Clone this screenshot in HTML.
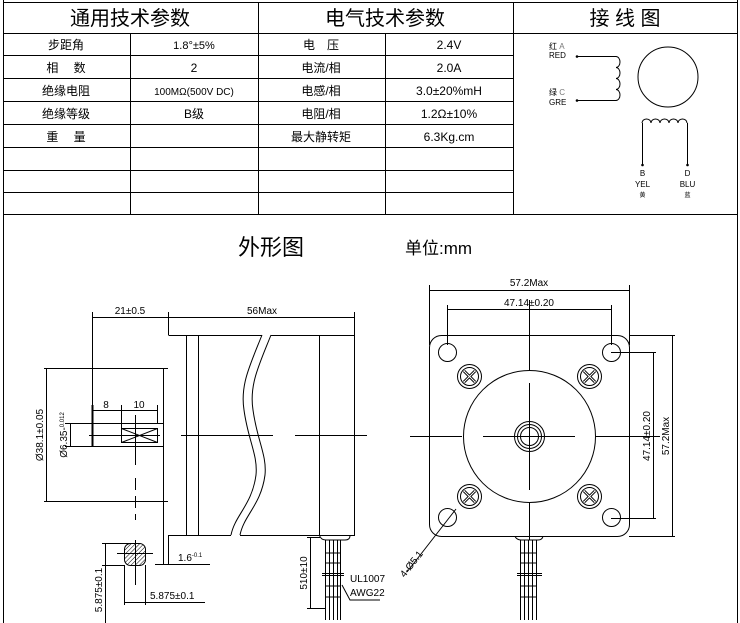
<!DOCTYPE html>
<html><head><meta charset="utf-8"><style>
html,body{margin:0;padding:0;background:#fff}
svg{display:block}
text{font-family:"Liberation Sans","Noto Sans CJK SC",sans-serif;fill:#000}
</style></head><body>
<svg width="740" height="623" viewBox="0 0 740 623" xmlns="http://www.w3.org/2000/svg">
<defs>
<pattern id="h" width="3" height="3" patternUnits="userSpaceOnUse" patternTransform="rotate(45)"><line x1="0" y1="0" x2="0" y2="3" stroke="#000" stroke-width="1"/></pattern>
</defs>
<g stroke="#000" stroke-width="1" fill="none">
<!-- frame -->
<line x1="3.5" y1="0" x2="3.5" y2="623"/>
<line x1="737.5" y1="0" x2="737.5" y2="623"/>
<line x1="3" y1="2.5" x2="738" y2="2.5"/>
<line x1="3" y1="33.5" x2="738" y2="33.5"/>
<line x1="3" y1="214.5" x2="738" y2="214.5"/>
<line x1="3" y1="55.5" x2="513" y2="55.5"/>
<line x1="3" y1="78.5" x2="513" y2="78.5"/>
<line x1="3" y1="101.5" x2="513" y2="101.5"/>
<line x1="3" y1="124.5" x2="513" y2="124.5"/>
<line x1="3" y1="147.5" x2="513" y2="147.5"/>
<line x1="3" y1="170.5" x2="513" y2="170.5"/>
<line x1="3" y1="192.5" x2="513" y2="192.5"/>
<line x1="130.5" y1="33" x2="130.5" y2="214"/>
<line x1="258.5" y1="2" x2="258.5" y2="214"/>
<line x1="385.5" y1="33" x2="385.5" y2="214"/>
<line x1="513.5" y1="2" x2="513.5" y2="214"/>
<!-- wiring -->
<line x1="577" y1="56.5" x2="616" y2="56.5"/>
<line x1="577" y1="100.5" x2="616" y2="100.5"/>
<path d="M616 56.5 a4 5.5 0 0 1 0 11 a4 5.5 0 0 1 0 11 a4 5.5 0 0 1 0 11 a4 5.5 0 0 1 0 11"/>
<circle cx="668" cy="77" r="30"/>
<path d="M642 123 a4.5 4 0 0 1 9 0 a4.5 4 0 0 1 9 0 a4.5 4 0 0 1 9 0 a4.5 4 0 0 1 9 0 a4.5 4 0 0 1 9 0"/>
<line x1="642.5" y1="123" x2="642.5" y2="165"/>
<line x1="687.5" y1="123" x2="687.5" y2="165"/>
</g>
<g fill="#000"><circle cx="577" cy="56.5" r="1.3"/><circle cx="577" cy="100.5" r="1.3"/><circle cx="642.5" cy="165" r="1.3"/><circle cx="687.5" cy="165" r="1.3"/></g>
<g font-size="8">
<text x="549" y="49">红 <tspan fill="#777">A</tspan></text><text x="549" y="58">RED</text>
<text x="549" y="95">绿 <tspan fill="#777">C</tspan></text><text x="549" y="105">GRE</text>
<text x="642.5" y="176" text-anchor="middle">B</text><text x="642.5" y="187" text-anchor="middle">YEL</text><text x="642.5" y="197" text-anchor="middle" font-size="6">黄</text>
<text x="687.5" y="176" text-anchor="middle">D</text><text x="687.5" y="187" text-anchor="middle">BLU</text><text x="687.5" y="197" text-anchor="middle" font-size="6">蓝</text>
</g>
<!-- table text -->
<g font-size="20" text-anchor="middle">
<text x="130" y="25">通用技术参数</text><text x="385" y="25">电气技术参数</text><text x="625" y="25">接 线 图</text>
</g>
<g font-size="12" text-anchor="middle">
<text x="66" y="49">步距角</text><text x="194" y="49" font-size="11">1.8°±5%</text><text x="321" y="49">电　压</text><text x="449" y="49">2.4V</text>
<text x="66" y="72">相　 数</text><text x="194" y="72">2</text><text x="321" y="72">电流/相</text><text x="449" y="72">2.0A</text>
<text x="66" y="95">绝缘电阻</text><text x="194" y="95" font-size="10">100MΩ(500V  DC)</text><text x="321" y="95">电感/相</text><text x="449" y="95">3.0±20%mH</text>
<text x="66" y="118">绝缘等级</text><text x="194" y="118">B级</text><text x="321" y="118">电阻/相</text><text x="449" y="118">1.2Ω±10%</text>
<text x="66" y="141">重　 量</text><text x="321" y="141">最大静转矩</text><text x="449" y="141">6.3Kg.cm</text>
</g>
<text x="238" y="255" font-size="22">外形图</text>
<text x="405" y="254" font-size="17">单位:mm</text>

<!-- side view -->
<g stroke="#000" stroke-width="1" fill="none">
<line x1="92" y1="317.5" x2="168" y2="317.5"/>
<line x1="168" y1="317.5" x2="354" y2="317.5"/>
<line x1="92.5" y1="312" x2="92.5" y2="446"/>
<line x1="168.5" y1="312" x2="168.5" y2="335"/>
<line x1="354.5" y1="312" x2="354.5" y2="335"/>
<path d="M168.5 335.5 H262 M271 335.5 H354.5 V535.5 H240 M231 535.5 H168.5 V565"/>
<line x1="186.5" y1="335" x2="186.5" y2="535"/>
<line x1="198.5" y1="335" x2="198.5" y2="535"/>
<line x1="319.5" y1="335" x2="319.5" y2="535"/>
<path d="M262 335 C250 365,240 385,244 410 C248 440,258 455,256 475 C252 505,235 515,231 535"/>
<path d="M271 335 C259 365,249 385,253 410 C257 440,267 455,265 475 C261 505,244 515,240 535"/>
<line x1="163.5" y1="368" x2="163.5" y2="565"/>
<line x1="44" y1="368.5" x2="168" y2="368.5"/>
<line x1="44" y1="501.5" x2="168" y2="501.5"/>
<line x1="46.5" y1="368" x2="46.5" y2="501"/>
<line x1="65" y1="423.5" x2="163" y2="423.5"/>
<line x1="65" y1="446.5" x2="163" y2="446.5"/>
<line x1="70.5" y1="423" x2="70.5" y2="446"/>
<line x1="92.5" y1="405" x2="92.5" y2="446" stroke-width="2"/>
<line x1="121.5" y1="405" x2="121.5" y2="442"/>
<line x1="157.5" y1="405" x2="157.5" y2="423"/>
<line x1="92" y1="410.5" x2="157" y2="410.5"/>
<rect x="121.5" y="428.5" width="36" height="14"/>
<path d="M121.5 428.5 L157.5 442.5 M121.5 442.5 L157.5 428.5"/>
<line x1="89" y1="435.5" x2="160" y2="435.5"/>
<line x1="181" y1="435.5" x2="273" y2="435.5"/>
<line x1="295" y1="435.5" x2="367" y2="435.5"/>
<line x1="135.5" y1="415" x2="135.5" y2="465" />
<line x1="135.5" y1="478" x2="135.5" y2="520" stroke-dasharray="12,6"/>
<rect x="124.5" y="543.5" width="21" height="22" rx="6" fill="url(#h)"/>
<line x1="117" y1="553.5" x2="153" y2="553.5"/>
<line x1="135.5" y1="540" x2="135.5" y2="585"/>
<line x1="102" y1="543.5" x2="130" y2="543.5"/>
<line x1="102" y1="565.5" x2="124" y2="565.5"/>
<line x1="105.5" y1="543" x2="105.5" y2="623"/>
<line x1="124.5" y1="565" x2="124.5" y2="605"/>
<line x1="145.5" y1="565" x2="145.5" y2="605"/>
<line x1="124" y1="602.5" x2="205" y2="602.5"/>
<line x1="155" y1="564.5" x2="210" y2="564.5"/>
<!-- wires side -->
<path d="M319.5 535.5 Q321 540,326 540 H345 Q350 540,350 535.5"/>
<line x1="310.5" y1="537" x2="310.5" y2="608"/>
<line x1="307" y1="537.5" x2="320" y2="537.5"/>
<line x1="307" y1="608.5" x2="325" y2="608.5"/>
<line x1="325.5" y1="540" x2="325.5" y2="620"/><line x1="329.5" y1="540" x2="329.5" y2="620"/><line x1="333.5" y1="540" x2="333.5" y2="620"/><line x1="337.5" y1="540" x2="337.5" y2="620"/><line x1="340.5" y1="540" x2="340.5" y2="620"/>
<line x1="322" y1="573.5" x2="344" y2="573.5"/><line x1="322" y1="575.5" x2="344" y2="575.5"/>
<path d="M325 553h16 M325 563h16 M325 586h16 M325 597h16"/>
<path d="M342 585 L350 600 H380"/>
</g>
<g font-size="10">
<text x="130" y="314" text-anchor="middle">21±0.5</text>
<text x="262" y="314" text-anchor="middle">56Max</text>
<text x="106" y="408" text-anchor="middle">8</text>
<text x="139" y="408" text-anchor="middle">10</text>
<text transform="translate(43,435) rotate(-90)" text-anchor="middle">Ø38.1±0.05</text>
<text transform="translate(67,435) rotate(-90)" text-anchor="middle">Ø6.35-<tspan font-size="6" dy="-3">0.012</tspan></text>
<text x="150" y="599">5.875±0.1</text>
<text transform="translate(102,590) rotate(-90)" text-anchor="middle">5.875±0.1</text>
<text x="178" y="561">1.6<tspan font-size="6" dy="-4">-0.1</tspan></text>
<text transform="translate(307,573) rotate(-90)" text-anchor="middle">510±10</text>
<text x="350" y="582">UL1007</text>
<text x="350" y="596">AWG22</text>
</g>

<!-- front view -->
<g stroke="#000" stroke-width="1" fill="none">
<line x1="429.5" y1="285" x2="429.5" y2="345"/>
<line x1="629.5" y1="285" x2="629.5" y2="345"/>
<line x1="429" y1="290.5" x2="629" y2="290.5"/>
<line x1="447.5" y1="305" x2="447.5" y2="345"/>
<line x1="611.5" y1="305" x2="611.5" y2="345"/>
<line x1="447" y1="309.5" x2="611" y2="309.5"/>
<rect x="429.5" y="335.5" width="200" height="201" rx="12"/>
<circle cx="447.5" cy="352.5" r="9"/><circle cx="611.5" cy="352.5" r="9"/><circle cx="447.5" cy="517.5" r="9"/><circle cx="611.5" cy="517.5" r="9"/>
<g id="s"><circle cx="469.5" cy="376.5" r="12"/><circle cx="469.5" cy="376.5" r="9"/><path d="M464 371 l11 11 M475 371 l-11 11" stroke-width="3"/><path d="M464 371 l11 11 M475 371 l-11 11" stroke="#fff" stroke-width="1"/></g>
<use href="#s" x="120"/><use href="#s" y="120"/><use href="#s" x="120" y="120"/>
<circle cx="529.5" cy="436.5" r="66"/>
<circle cx="529.5" cy="436.5" r="15"/><circle cx="529.5" cy="436.5" r="12"/><circle cx="529.5" cy="436.5" r="9"/>
<line x1="410" y1="436.5" x2="462" y2="436.5"/><line x1="483" y1="436.5" x2="575" y2="436.5"/><line x1="596" y1="436.5" x2="660" y2="436.5"/>
<line x1="529.5" y1="300" x2="529.5" y2="370"/><line x1="529.5" y1="383" x2="529.5" y2="490"/><line x1="529.5" y1="503" x2="529.5" y2="540"/>
<line x1="611" y1="352.5" x2="656" y2="352.5"/><line x1="611" y1="518.5" x2="656" y2="518.5"/>
<line x1="653.5" y1="352" x2="653.5" y2="518"/>
<line x1="629" y1="335.5" x2="675" y2="335.5"/><line x1="629" y1="536.5" x2="675" y2="536.5"/>
<line x1="672.5" y1="335" x2="672.5" y2="536"/>
<line x1="456" y1="509" x2="407" y2="572"/>
<path d="M515 536.5 Q517 540,521 540 H538 Q542 540,543 536.5"/>
<line x1="520.5" y1="540" x2="520.5" y2="620"/><line x1="524.5" y1="540" x2="524.5" y2="620"/><line x1="528.5" y1="540" x2="528.5" y2="620"/><line x1="532.5" y1="540" x2="532.5" y2="620"/><line x1="536.5" y1="540" x2="536.5" y2="620"/>
<line x1="517" y1="573.5" x2="542" y2="573.5"/><line x1="517" y1="575.5" x2="542" y2="575.5"/>
<path d="M520 553h17 M520 563h17 M520 586h17 M520 597h17"/>
</g>
<g font-size="10">
<text x="529" y="286" text-anchor="middle">57.2Max</text>
<text x="529" y="306" text-anchor="middle">47.14±0.20</text>
<text transform="translate(650,436) rotate(-90)" text-anchor="middle">47.14±0.20</text>
<text transform="translate(669,436) rotate(-90)" text-anchor="middle">57.2Max</text>
<text transform="translate(414,566) rotate(-52)" text-anchor="middle">4-Ø5.1</text>
</g>
</svg>
</body></html>
